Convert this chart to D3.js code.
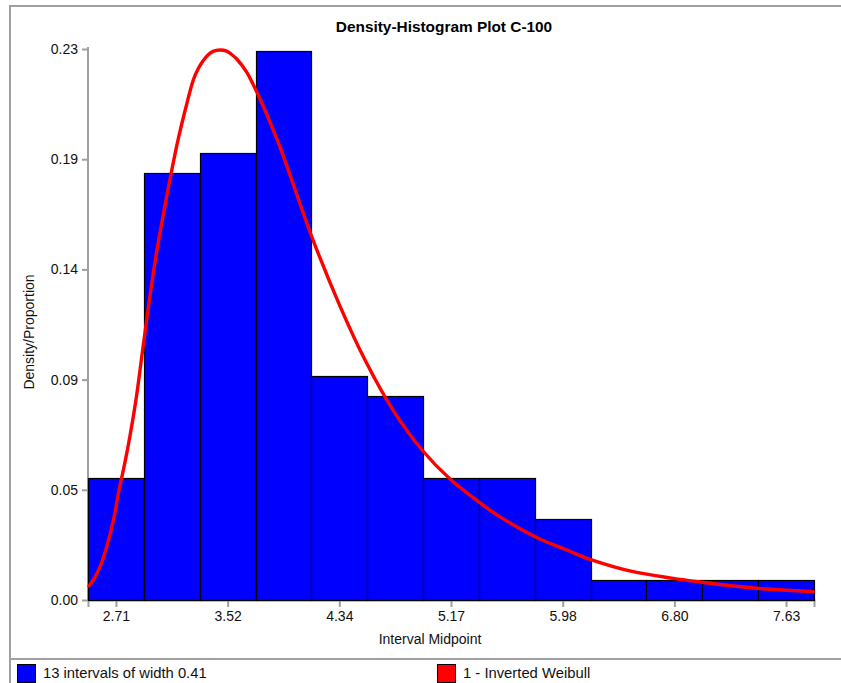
<!DOCTYPE html>
<html>
<head>
<meta charset="utf-8">
<script src="https://cdn.jsdelivr.net/npm/d3@7"></script>
<style>
  html, body { margin: 0; padding: 0; background: #ffffff; }
  svg { display: block; font-family: "Liberation Sans", Arial, sans-serif; }
</style>
</head>
<body>
<svg id="chart" width="841" height="683"></svg>
<script>
// ---- data ----
const binStart = 2.505;
const binWidth = 0.41;
const proportions = [0.0513, 0.1795, 0.1880, 0.2308, 0.0940, 0.0855, 0.0513, 0.0513, 0.0342, 0.0085, 0.0085, 0.0085, 0.0085];
const xTickLabels = ["2.71", "3.52", "4.34", "5.17", "5.98", "6.80", "7.63"];
const yMax = 0.2315;
const yTickCount = 5;
const curveX = [2.512, 2.544, 2.593, 2.642, 2.689, 2.733, 2.777, 2.813, 2.857, 2.916, 2.997, 3.092, 3.166, 3.230, 3.278, 3.313, 3.349, 3.386, 3.423, 3.474, 3.523, 3.555, 3.597, 3.670, 3.716, 3.768, 3.841, 3.915, 3.988, 4.149, 4.355, 4.539, 4.744, 4.964, 5.163, 5.383, 5.530, 5.787, 6.019, 6.191, 6.508, 6.802, 6.998, 7.243, 7.488, 7.830];
const curveY = [0.0059, 0.0084, 0.0139, 0.0223, 0.0328, 0.0462, 0.0580, 0.0689, 0.0840, 0.1092, 0.1420, 0.1723, 0.1933, 0.2084, 0.2185, 0.2231, 0.2265, 0.2290, 0.2305, 0.2311, 0.2306, 0.2294, 0.2273, 0.2218, 0.2168, 0.2105, 0.2008, 0.1903, 0.1786, 0.1525, 0.1235, 0.1008, 0.0798, 0.0626, 0.0508, 0.0408, 0.0349, 0.0266, 0.0210, 0.0171, 0.0119, 0.0091, 0.0076, 0.0059, 0.0046, 0.0035];
const titleText = "Density-Histogram Plot C-100";
const xTitle = "Interval Midpoint";
const yTitle = "Density/Proportion";
const legendItems = [
  { label: "13 intervals of width 0.41", color: "#0000ff" },
  { label: "1 - Inverted Weibull", color: "#ff0000" }
];

// ---- layout ----
const svg = d3.select("#chart");
const plot = { left: 88, right: 814, top: 49, bottom: 600 };
const grey = "#a0a0a0";

const x = d3.scaleLinear()
  .domain([binStart, binStart + proportions.length * binWidth])
  .range([plot.left, plot.right]);
const y = d3.scaleLinear().domain([0, yMax]).range([plot.bottom, plot.top]);

// frame
svg.append("line").attr("x1", 10).attr("x2", 10).attr("y1", 6).attr("y2", 683)
  .attr("stroke", grey).attr("stroke-width", 2);
svg.append("line").attr("x1", 9).attr("x2", 841).attr("y1", 6).attr("y2", 6)
  .attr("stroke", grey).attr("stroke-width", 2);
svg.append("line").attr("x1", 9).attr("x2", 841).attr("y1", 659).attr("y2", 659)
  .attr("stroke", grey).attr("stroke-width", 2);

// title
svg.append("text").attr("x", 444).attr("y", 32).attr("text-anchor", "middle")
  .attr("font-size", 15.4).attr("font-weight", "bold").attr("fill", "#000")
  .text(titleText);

// y axis
const yTicks = d3.range(yTickCount + 1).map(i => yMax * i / yTickCount);
const yAxis = d3.axisLeft(y).tickValues(yTicks).tickFormat(d3.format(".2f"))
  .tickSize(6).tickPadding(4);
const gy = svg.append("g").attr("transform", `translate(${plot.left},0)`).call(yAxis);
gy.select(".domain").attr("stroke", grey).attr("stroke-width", 2)
  .attr("d", `M0,${plot.top - 2}V${plot.bottom}`);
gy.selectAll(".tick line").attr("stroke", grey).attr("stroke-width", 2);
gy.selectAll(".tick text").attr("font-size", 14).attr("fill", "#111")
  .attr("font-family", "Liberation Sans, Arial, sans-serif");

// x axis
const xTickVals = xTickLabels.map((_, i) => binStart + (2 * i + 0.5) * binWidth);
const xAxis = d3.axisBottom(x).tickValues(xTickVals)
  .tickFormat((d, i) => xTickLabels[i]).tickSize(7).tickPadding(4);
const gx = svg.append("g").attr("transform", `translate(0,${plot.bottom})`).call(xAxis);
gx.select(".domain").attr("stroke", grey).attr("stroke-width", 2);
gx.selectAll(".tick line").attr("stroke", grey).attr("stroke-width", 2);
gx.selectAll(".tick text").attr("font-size", 14).attr("fill", "#111")
  .attr("font-family", "Liberation Sans, Arial, sans-serif");

// bars
svg.append("g").selectAll("rect").data(proportions).join("rect")
  .attr("x", (d, i) => Math.round(x(binStart + i * binWidth)) + 0.5)
  .attr("y", d => Math.round(y(d)) + 0.5)
  .attr("width", (d, i) => Math.round(x(binStart + (i + 1) * binWidth)) - Math.round(x(binStart + i * binWidth)))
  .attr("height", d => Math.round(y(0)) - Math.round(y(d)))
  .attr("fill", "#0000ff").attr("stroke", "#000").attr("stroke-width", 1.2);

// curve
const pts = curveX.map((v, i) => [v, curveY[i]]);
const line = d3.line().x(d => x(d[0])).y(d => y(d[1])).curve(d3.curveCatmullRom.alpha(0.5));
svg.append("path").datum(pts).attr("d", line)
  .attr("fill", "none").attr("stroke", "#ff0000").attr("stroke-width", 3.4)
  .attr("stroke-linejoin", "round").attr("stroke-linecap", "round");

// axis titles
svg.append("text").attr("x", 430).attr("y", 644).attr("text-anchor", "middle")
  .attr("font-size", 14).attr("fill", "#111").text(xTitle);
svg.append("text").attr("transform", "translate(34,332) rotate(-90)")
  .attr("text-anchor", "middle").attr("font-size", 14).attr("fill", "#111").text(yTitle);

// legend
const legendX = [17, 437];
const lg = svg.append("g").selectAll("g").data(legendItems).join("g")
  .attr("transform", (d, i) => `translate(${legendX[i]},664)`);
lg.append("rect").attr("x", 0.5).attr("y", 0.5).attr("width", 18).attr("height", 18)
  .attr("fill", d => d.color).attr("stroke", "#000").attr("stroke-width", 1);
lg.append("text").attr("x", 26).attr("y", 14).attr("font-size", 14.8).attr("fill", "#111")
  .text(d => d.label);
</script>
</body>
</html>
